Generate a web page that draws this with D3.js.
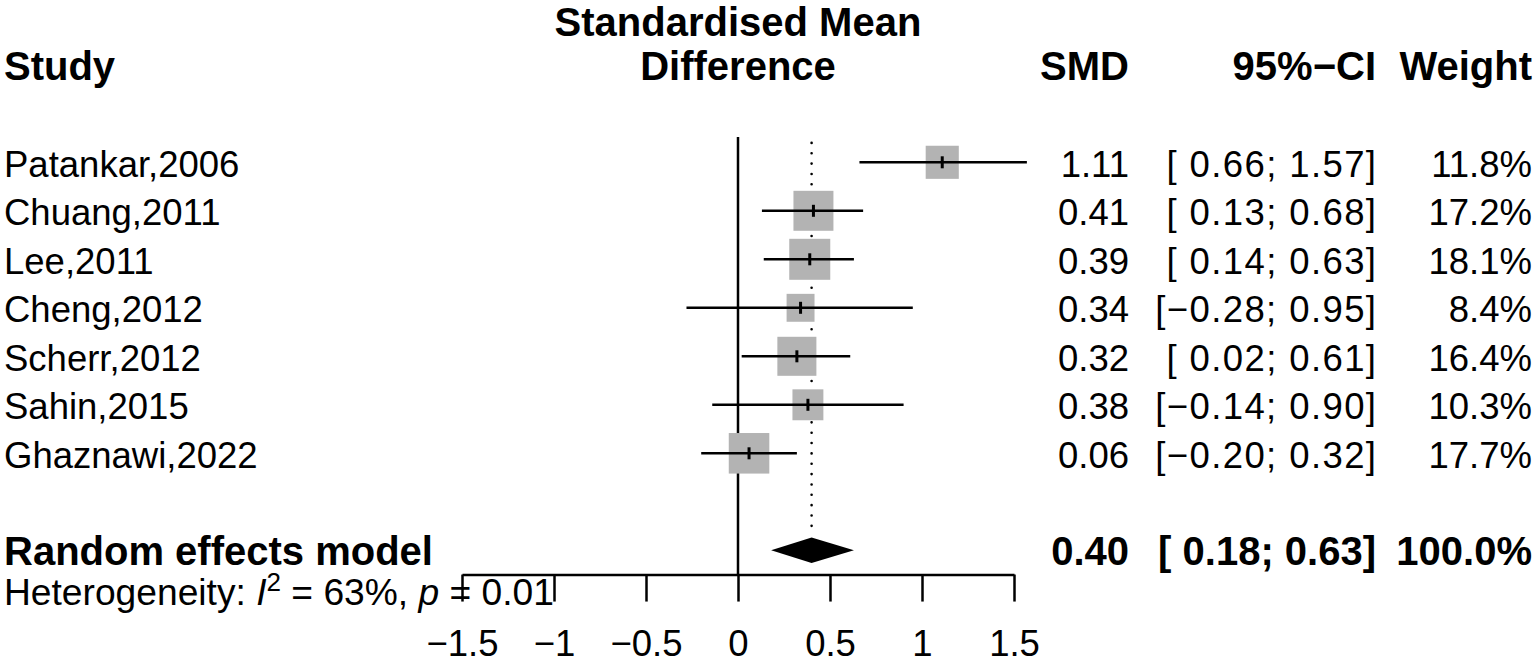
<!DOCTYPE html>
<html><head><meta charset="utf-8">
<script src="https://cdn.jsdelivr.net/npm/d3@7"></script>
<style>
html,body{margin:0;padding:0;background:#fff;}
svg text{font-family:"Liberation Sans",Arial,Helvetica,sans-serif;fill:#000;}
</style></head>
<body>
<svg id="chart" width="1535" height="664"></svg>
<script>
// ---- data ----
const studies = ["Patankar,2006","Chuang,2011","Lee,2011","Cheng,2012","Scherr,2012","Sahin,2015","Ghaznawi,2022"];
const smd     = [1.11, 0.41, 0.39, 0.34, 0.32, 0.38, 0.06];
const lower   = [0.66, 0.13, 0.14, -0.28, 0.02, -0.14, -0.20];
const upper   = [1.57, 0.68, 0.63, 0.95, 0.61, 0.90, 0.32];
const weights = [11.8, 17.2, 18.1, 8.4, 16.4, 10.3, 17.7];
const pooledLabel = "Random effects model";
const pooled = [0.40, 0.18, 0.63, 100.0]; // smd, lower, upper, weight
const hetI2 = "63%", hetP = "0.01";
const xTicks = [-1.5, -1, -0.5, 0, 0.5, 1, 1.5];

// ---- layout ----
const svg = d3.select("#chart");
const FS = 36.5, FSB = 40;
const x = d3.scaleLinear().domain([-1.5, 1.5]).range([462, 1014]);
const row = d3.scaleLinear().domain([0, 1]).range([162.3, 210.8]);
const sq = d3.scaleSqrt().domain([0, d3.max(weights)]).range([0, 41]);
const colSMD = 1129, colCI = 1376, colW = 1532;
const base = 14.2;
const minus = v => (v < 0 ? "\u2212" : "") + Math.abs(v).toFixed(2);
const ciTxt = (lo, hi) => "[" + (lo < 0 ? "" : " ") + minus(lo) + "; " + minus(hi) + "]";

// headers
const hdr = svg.append("g").attr("font-weight", "bold").attr("font-size", FSB);
hdr.append("text").attr("x", 4).attr("y", 80).text("Study");
hdr.append("text").attr("x", x(0)).attr("y", 36).attr("text-anchor", "middle").text("Standardised Mean");
hdr.append("text").attr("x", x(0)).attr("y", 80).attr("text-anchor", "middle").text("Difference");
hdr.append("text").attr("x", colSMD).attr("y", 80).attr("text-anchor", "end").text("SMD");
hdr.append("text").attr("x", colCI).attr("y", 80).attr("text-anchor", "end").text("95%\u2212CI");
hdr.append("text").attr("x", colW).attr("y", 80).attr("text-anchor", "end").text("Weight");

// reference lines
const nRows = studies.length;
svg.append("line").attr("x1", x(0)).attr("x2", x(0))
  .attr("y1", row(-0.52)).attr("y2", row(8.5))
  .attr("stroke", "#000").attr("stroke-width", 2.5);
svg.append("line").attr("x1", x(pooled[0])).attr("x2", x(pooled[0]))
  .attr("y1", row(-0.4)).attr("y2", row(7.6))
  .attr("stroke", "#000").attr("stroke-width", 2.6)
  .attr("stroke-dasharray", "0 10.35").attr("stroke-linecap", "round");

// study rows
const idx = d3.range(nRows);
const g = svg.append("g");
g.selectAll("rect.sq").data(idx).join("rect").attr("class", "sq")
  .attr("x", i => x(smd[i]) - sq(weights[i]) / 2)
  .attr("y", i => row(i) - sq(weights[i]) / 2)
  .attr("width", i => sq(weights[i])).attr("height", i => sq(weights[i]))
  .attr("fill", "#b3b3b3");
g.selectAll("line.ci").data(idx).join("line").attr("class", "ci")
  .attr("x1", i => x(lower[i])).attr("x2", i => x(upper[i]))
  .attr("y1", i => row(i)).attr("y2", i => row(i))
  .attr("stroke", "#000").attr("stroke-width", 2.6);
g.selectAll("line.pt").data(idx).join("line").attr("class", "pt")
  .attr("x1", i => x(smd[i])).attr("x2", i => x(smd[i]))
  .attr("y1", i => row(i) - 6).attr("y2", i => row(i) + 6)
  .attr("stroke", "#000").attr("stroke-width", 3);

const t = svg.append("g").attr("font-size", FS);
t.selectAll("text.lab").data(idx).join("text").attr("class", "lab")
  .attr("x", 4).attr("y", i => row(i) + base).text(i => studies[i]);
t.selectAll("text.smd").data(idx).join("text").attr("class", "smd")
  .attr("x", colSMD).attr("y", i => row(i) + base).attr("text-anchor", "end")
  .text(i => minus(smd[i]));
t.selectAll("text.ci").data(idx).join("text").attr("class", "ci")
  .attr("x", colCI + 1.4).attr("y", i => row(i) + base).attr("text-anchor", "end")
  .attr("letter-spacing", 1.4)
  .text(i => ciTxt(lower[i], upper[i]));
t.selectAll("text.w").data(idx).join("text").attr("class", "w")
  .attr("x", colW).attr("y", i => row(i) + base).attr("text-anchor", "end")
  .text(i => weights[i].toFixed(1) + "%");

// pooled row
const pr = 8;
const dh = 12.7;
svg.append("path")
  .attr("d", `M${x(pooled[1])},${row(pr)} L${x(pooled[0])},${row(pr) - dh} L${x(pooled[2])},${row(pr)} L${x(pooled[0])},${row(pr) + dh} Z`)
  .attr("fill", "#000");
const pt = svg.append("g").attr("font-size", FSB).attr("font-weight", "bold");
pt.append("text").attr("x", 4).attr("y", row(pr) + base).text(pooledLabel);
pt.append("text").attr("x", colSMD).attr("y", row(pr) + base).attr("text-anchor", "end").text(minus(pooled[0]));
pt.append("text").attr("x", colCI).attr("y", row(pr) + base).attr("text-anchor", "end").text(ciTxt(pooled[1], pooled[2]));
pt.append("text").attr("x", colW).attr("y", row(pr) + base).attr("text-anchor", "end").text(pooled[3].toFixed(1) + "%");

// heterogeneity
const FSH = 37.2;
const het = svg.append("text").attr("x", 4).attr("y", 605).attr("font-size", FSH);
het.append("tspan").text("Heterogeneity: ");
het.append("tspan").attr("font-style", "italic").text("I");
het.append("tspan").attr("font-size", FSH * 0.7).attr("dy", -14).text("2");
het.append("tspan").attr("dy", 14).text(" = " + hetI2 + ", ");
het.append("tspan").attr("font-style", "italic").text("p");
het.append("tspan").text(" = " + hetP);

// axis
const axis = d3.axisBottom(x).tickValues(xTicks).tickSize(27).tickSizeOuter(0)
  .tickFormat(d => (d < 0 ? "\u2212" : "") + Math.abs(d));
const ag = svg.append("g").attr("transform", `translate(0,${row(8.5)})`).call(axis);
ag.select(".domain").attr("stroke", "#000").attr("stroke-width", 2.5);
ag.selectAll(".tick line").attr("stroke", "#000").attr("stroke-width", 2.5);
ag.selectAll(".tick text").attr("font-size", FS).attr("font-family", null)
  .attr("dy", null).attr("y", 656 - row(8.5)).attr("fill", "#000");
</script>
</body></html>
